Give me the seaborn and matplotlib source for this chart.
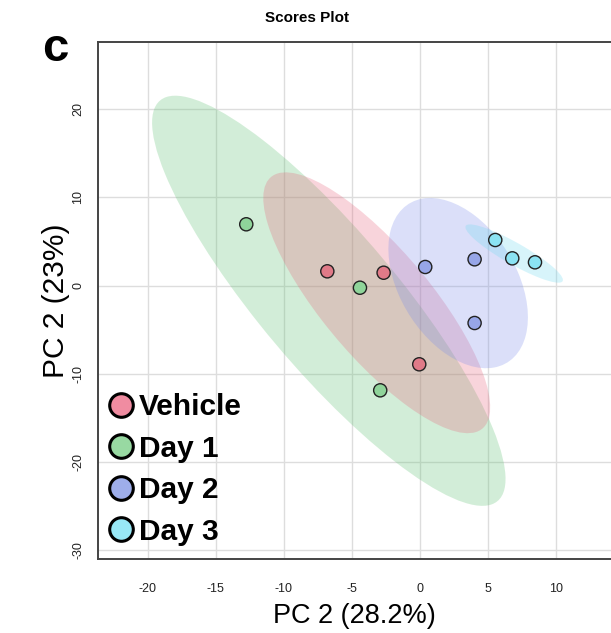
import numpy as np
import pandas as pd
import matplotlib
matplotlib.use("Agg")
import matplotlib.pyplot as plt
from matplotlib.lines import Line2D
from matplotlib.patches import Ellipse
import seaborn as sns

# ---- data ----
groups = ["Vehicle", "Day 1", "Day 2", "Day 3"]
vehicle_x = [-6.79, -2.65, -0.03]
vehicle_y = [1.61, 1.45, -8.93]
day1_x = [-12.75, -4.39, -2.90]
day1_y = [6.94, -0.25, -11.88]
day2_x = [0.41, 4.04, 4.04]
day2_y = [2.10, 2.97, -4.25]
day3_x = [5.56, 6.81, 8.48]
day3_y = [5.16, 3.08, 2.63]
x_ticks = [-20, -15, -10, -5, 0, 5, 10]
y_ticks = [-30, -20, -10, 0, 10, 20]

point_colors = ["#E07A88", "#8FD49A", "#97A6E8", "#8BE3F3"]
legend_colors = ["#F08CA1", "#98D9A2", "#9EAEEA", "#98E8F6"]
ell_colors = ["#E8627A", "#5CC070", "#7A8CEB", "#6DD9F0"]

xs = [vehicle_x, day1_x, day2_x, day3_x]
ys = [vehicle_y, day1_y, day2_y, day3_y]
df = pd.DataFrame({
    "PC1": np.concatenate(xs),
    "PC2": np.concatenate(ys),
    "group": np.repeat(groups, [len(v) for v in xs]),
})

sns.set_style("whitegrid")
plt.rcParams["font.family"] = ["Liberation Sans", "DejaVu Sans"]
plt.rcParams["text.color"] = "black"
plt.rcParams["axes.labelcolor"] = "black"

fig = plt.figure(figsize=(6.11, 6.33), dpi=100)
ax = fig.add_axes([0.1609, 0.1169, 0.8391, 0.8163])

# 95% confidence ellipses from the data covariance
t = np.sqrt(5.991464547)
order = [1, 0, 2, 3]
for i in order:
    gx = np.array(xs[i]); gy = np.array(ys[i])
    cov = np.cov(gx, gy)
    vals, vecs = np.linalg.eigh(cov)
    ang = np.degrees(np.arctan2(vecs[1, 1], vecs[0, 1]))
    w = 2 * t * np.sqrt(vals[1]); h = 2 * t * np.sqrt(vals[0])
    e = Ellipse((gx.mean(), gy.mean()), w, h, angle=ang,
                facecolor=ell_colors[i], alpha=0.27, edgecolor="none", zorder=1)
    ax.add_patch(e)

sns.scatterplot(data=df, x="PC1", y="PC2", hue="group", hue_order=groups,
                palette=point_colors, s=90, edgecolor="#222222", linewidth=1.0,
                legend=False, ax=ax, zorder=3)

ax.set_xlim(-23.63, 14.07)
ax.set_ylim(-31.0, 27.57)
ax.set_xticks(x_ticks)
ax.set_yticks(y_ticks)
ax.set_xticklabels([str(v) for v in x_ticks])
ax.set_yticklabels([str(v) for v in y_ticks], rotation=90, va="center")
ax.grid(True, color="#DDDDDD", linewidth=1.0)
ax.set_axisbelow(True)
for s in ["left", "top", "bottom"]:
    ax.spines[s].set_color("#444444")
    ax.spines[s].set_linewidth(1.4)
ax.spines["right"].set_visible(False)
ax.tick_params(axis="both", which="both", length=7, width=1.2, color="#333333",
               labelsize=9, labelcolor="#222222", direction="out")
ax.tick_params(axis="x", pad=10)
ax.tick_params(axis="y", pad=3)

ax.set_xlabel("PC 2 (28.2%)", fontsize=19.5, labelpad=6, color="black")
ax.set_ylabel("PC 2 (23%)", fontsize=21.5, labelpad=2, color="black")

fig.text(0.502, 0.972, "Scores Plot", ha="center", va="center",
         fontsize=11, fontweight="bold", color="black")
fig.text(0.09, 0.922, "c", ha="center", va="center",
         fontsize=34, fontweight="bold", color="black")

handles = [Line2D([0], [0], marker="o", linestyle="none", markersize=17,
                  markerfacecolor=c, markeredgecolor="black", markeredgewidth=2.2)
           for c in legend_colors]
leg = ax.legend(handles, groups, loc="lower left", frameon=False,
                prop={"weight": "bold", "size": 21.5}, handletextpad=0.1,
                labelspacing=0.45, borderaxespad=0.2, handlelength=1.0,
                bbox_to_anchor=(-0.02, -0.009))
for txt in leg.get_texts():
    txt.set_color("black")

fig.savefig("out.png", dpi=100)
